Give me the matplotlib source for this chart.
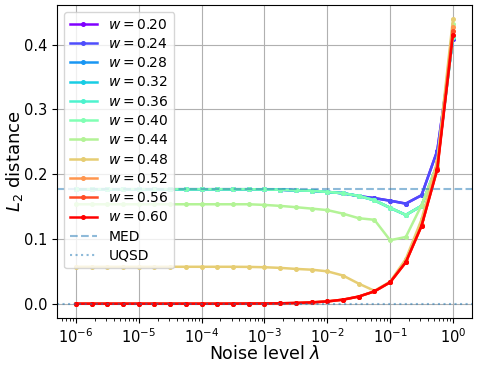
import numpy as np
import matplotlib
matplotlib.use("Agg")
import matplotlib.pyplot as plt

# noise levels, 4 points per decade from 1e-6 to 1
lam = [1e-6, 1.778e-6, 3.162e-6, 5.623e-6,
       1e-5, 1.778e-5, 3.162e-5, 5.623e-5,
       1e-4, 1.778e-4, 3.162e-4, 5.623e-4,
       1e-3, 1.778e-3, 3.162e-3, 5.623e-3,
       1e-2, 1.778e-2, 3.162e-2, 5.623e-2,
       1e-1, 1.778e-1, 3.162e-1, 5.623e-1, 1.0]

weights = [0.20, 0.24, 0.28, 0.32, 0.36, 0.40, 0.44, 0.48, 0.52, 0.56, 0.60]

d_020 = [0.1767] * 12 + [0.1765, 0.176, 0.175, 0.1745, 0.1726, 0.1705, 0.166, 0.163, 0.159, 0.1545, 0.1674, 0.236, 0.409]
d_024 = [0.1767] * 12 + [0.1765, 0.176, 0.175, 0.1745, 0.1726, 0.1705, 0.166, 0.163, 0.159, 0.1545, 0.1674, 0.236, 0.409]
d_028 = [0.1767] * 12 + [0.1765, 0.176, 0.175, 0.1745, 0.1726, 0.1705, 0.1664, 0.1597, 0.148, 0.137, 0.151, 0.215, 0.412]
d_032 = [0.1767] * 12 + [0.1765, 0.176, 0.175, 0.1745, 0.1726, 0.1705, 0.1664, 0.1597, 0.148, 0.137, 0.151, 0.215, 0.412]
d_036 = [0.1767] * 12 + [0.1765, 0.176, 0.175, 0.1745, 0.1726, 0.1705, 0.1664, 0.1597, 0.148, 0.137, 0.151, 0.215, 0.412]
d_040 = [0.1767] * 12 + [0.1765, 0.176, 0.175, 0.1745, 0.1726, 0.1705, 0.1664, 0.1597, 0.148, 0.137, 0.151, 0.215, 0.412]
d_044 = [0.1535] * 12 + [0.1525, 0.151, 0.149, 0.1468, 0.1445, 0.139, 0.132, 0.1295, 0.098, 0.103, 0.152, 0.215, 0.432]
d_048 = [0.057] * 11 + [0.0568, 0.0563, 0.0553, 0.0537, 0.0525, 0.050, 0.0435, 0.031, 0.020, 0.034, 0.069, 0.130, 0.220, 0.439]
d_052 = [0.0] * 10 + [0.0001, 0.0002, 0.0003, 0.0006, 0.0011, 0.002, 0.0035, 0.0062, 0.011, 0.019, 0.033, 0.064, 0.121, 0.209, 0.427]
d_056 = [0.0] * 10 + [0.0001, 0.0002, 0.0003, 0.0006, 0.0011, 0.002, 0.0035, 0.0062, 0.011, 0.019, 0.033, 0.064, 0.120, 0.208, 0.421]
d_060 = [0.0] * 10 + [0.0001, 0.0002, 0.0003, 0.0006, 0.0011, 0.002, 0.0035, 0.0062, 0.011, 0.019, 0.033, 0.064, 0.120, 0.207, 0.415]

curves = [d_020, d_024, d_028, d_032, d_036, d_040, d_044, d_048, d_052, d_056, d_060]

med = 0.1767
uqsd = 0.0

fig, ax = plt.subplots(figsize=(4.79, 3.65), dpi=100)
fig.subplots_adjust(left=0.119, right=0.985, top=0.986, bottom=0.129)

colors = plt.cm.rainbow(np.linspace(0, 1, len(weights)))
for w, d, c in zip(weights, curves, colors):
    ax.plot(lam, d, '-o', color=c, lw=1.8, ms=2.6, label=f'$w={w:.2f}$')

ax.axhline(med, color='tab:blue', alpha=0.5, ls='--', lw=1.5, label='MED')
ax.axhline(uqsd, color='tab:blue', alpha=0.5, ls=':', lw=1.5, label='UQSD')

ax.set_xscale('log')
ax.set_xlabel(r'Noise level $\lambda$', fontsize=12.5, labelpad=-1)
ax.set_ylabel(r'$L_2$ distance', fontsize=13, labelpad=-1)
ax.tick_params(labelsize=10.5)
ax.set_yticks([0.0, 0.1, 0.2, 0.3, 0.4])
ax.grid(True)
ax.legend(loc='upper left', fontsize=10, labelspacing=0.38)

plt.savefig('out.png', dpi=100)
